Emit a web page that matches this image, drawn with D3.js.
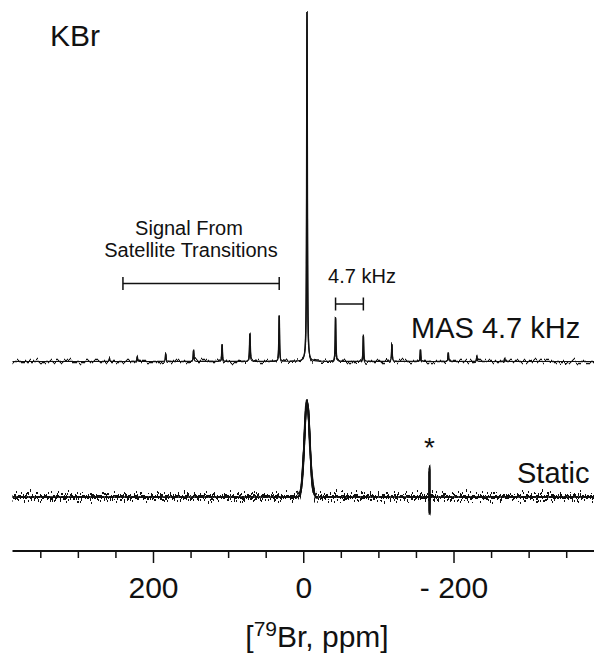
<!DOCTYPE html>
<html>
<head>
<meta charset="utf-8">
<script src="https://cdn.jsdelivr.net/npm/d3@7/dist/d3.min.js"></script>
<style>
  html, body { margin: 0; padding: 0; background: #fff; }
  svg { display: block; font-family: Arial, "Liberation Sans", Helvetica, sans-serif; }
</style>
</head>
<body>
<svg id="chart" width="594" height="656"></svg>
<script>
// ---- Chemical shift axis (ppm, decreasing to the right) ----
const ppmDomain = [387, -387];
const majorTicks = [200, 0, -200];
const minorTicks = [350, 300, 250, 150, 100, 50, -50, -100, -150, -250, -300, -350];

// ---- 79Br MAS spectrum at 4.7 kHz: centreband and spinning sidebands ----
const masPositions   = [258, 221, 183, 146, 108, 71, 32, -5, -43, -80, -118, -156, -193, -231, -268];
const masIntensities = [0.9, 1.4, 2.3, 3.1, 4.9, 8.0, 13.1, 100, 12.6, 7.7, 4.9, 3.4, 2.3, 1.4, 0.9];
const masLineWidth = 1.0;   // Lorentzian FWHM, ppm

// ---- 79Br static spectrum ----
const staticPositions   = [-5];
const staticIntensities = [100];
const staticLineWidth = 8.5;    // Gaussian FWHM, ppm
// spike artefact marked with an asterisk: positive and negative excursion
const artefactPpm = -168;
const artefactUp = 33;
const artefactDown = -21;

// annotation ranges (ppm)
const satelliteRange = [240, 32];
const spinningRange = [-43, -80];

const svg = d3.select("#chart");
const W = 594;

const x = d3.scaleLinear().domain(ppmDomain).range([12.5, 594]);
const yMas = d3.scaleLinear().domain([0, 100]).range([361.5, 12]);
const yStatic = d3.scaleLinear().domain([0, 100]).range([497, 402]);

// noise texture filters (vertical displacement only)
const defs = svg.append("defs");
function noiseFilter(id, freq, scale, seed) {
  const f = defs.append("filter").attr("id", id)
    .attr("filterUnits", "userSpaceOnUse")
    .attr("x", 0).attr("y", 0).attr("width", W).attr("height", 656)
    .attr("color-interpolation-filters", "sRGB");
  f.append("feTurbulence").attr("type", "fractalNoise")
    .attr("baseFrequency", freq).attr("numOctaves", 2).attr("seed", seed).attr("result", "t");
  f.append("feColorMatrix").attr("in", "t").attr("type", "matrix")
    .attr("values", "0 0 0 0 0.5  0 1 0 0 0  0 0 0 0 0  0 0 0 0 1").attr("result", "m");
  f.append("feDisplacementMap").attr("in", "SourceGraphic").attr("in2", "m")
    .attr("scale", scale).attr("xChannelSelector", "R").attr("yChannelSelector", "G");
}
noiseFilter("noiseMas", "0.35 0.01", 9, 4);
noiseFilter("noiseStaticA", "0.5 0.01", 24, 7);
noiseFilter("noiseStaticB", "0.3 0.01", 18, 11);
noiseFilter("noiseStaticC", "0.7 0.01", 20, 19);

// sampling grid in ppm, plus the exact peak centres
function grid(extra) {
  const pts = d3.range(ppmDomain[1], ppmDomain[0] + 0.001, 0.1);
  return pts.concat(extra).sort((a, b) => a - b);
}

const lorentz = (p, c, w) => 1 / (1 + Math.pow(2 * (p - c) / w, 2));
const gauss = (p, c, w) => Math.exp(-4 * Math.LN2 * Math.pow((p - c) / w, 2));

const masTrace = grid(masPositions).map(p => ({
  ppm: p,
  v: d3.sum(masPositions, (c, i) => masIntensities[i] * lorentz(p, c, masLineWidth))
}));

const staticTrace = grid(staticPositions.concat([artefactPpm, artefactPpm - 0.1])).map(p => ({
  ppm: p,
  v: d3.sum(staticPositions, (c, i) => staticIntensities[i] * gauss(p, c, staticLineWidth))
     + artefactUp * lorentz(p, artefactPpm, 0.08)
     + artefactDown * lorentz(p, artefactPpm - 0.1, 0.08)
}));

const masLine = d3.line().x(d => x(d.ppm)).y(d => yMas(d.v));
const staticLine = d3.line().x(d => x(d.ppm)).y(d => yStatic(d.v));

// MAS spectrum
svg.append("path").datum(masTrace).attr("d", masLine)
  .attr("fill", "none").attr("stroke", "#111").attr("stroke-width", 1.2);
svg.append("path").datum(masTrace).attr("d", masLine)
  .attr("fill", "none").attr("stroke", "#111").attr("stroke-width", 1.5)
  .attr("filter", "url(#noiseMas)");

// static spectrum
svg.append("path").datum(staticTrace).attr("d", staticLine)
  .attr("fill", "none").attr("stroke", "#111").attr("stroke-width", 1.6);
["noiseStaticA", "noiseStaticB", "noiseStaticC"].forEach(id => {
  svg.append("path").datum(staticTrace).attr("d", staticLine)
    .attr("fill", "none").attr("stroke", "#111").attr("stroke-width", 1.8)
    .attr("filter", `url(#${id})`);
});

// ---- axis ----
const axisY = 551;
const gMinor = svg.append("g").attr("transform", `translate(0,${axisY})`)
  .call(d3.axisBottom(x).tickValues(minorTicks).tickSize(7).tickFormat(""));
const gMajor = svg.append("g").attr("transform", `translate(0,${axisY})`)
  .call(d3.axisBottom(x).tickValues(majorTicks).tickSize(12)
    .tickFormat(d => d < 0 ? "- " + Math.abs(d) : String(d)));
[gMinor, gMajor].forEach(g => {
  g.select(".domain").remove();
  g.selectAll(".tick line").attr("stroke", "#111").attr("stroke-width", 1.5);
});
gMajor.selectAll(".tick text")
  .attr("y", 47).attr("dy", null)
  .attr("font-size", 30).attr("fill", "#111")
  .style("font-family", "Arial, 'Liberation Sans', sans-serif");
svg.append("line")
  .attr("x1", x(ppmDomain[0])).attr("x2", x(ppmDomain[1]))
  .attr("y1", axisY).attr("y2", axisY)
  .attr("stroke", "#111").attr("stroke-width", 1.8);

// axis title
const title = svg.append("text").attr("x", 317).attr("y", 647)
  .attr("text-anchor", "middle").attr("font-size", 30).attr("fill", "#111");
title.append("tspan").text("[");
title.append("tspan").attr("font-size", 21).attr("dy", -11).text("79");
title.append("tspan").attr("dy", 11).text("Br, ppm]");

// ---- labels ----
const txt = (t, xx, yy, size, anchor) => svg.append("text")
  .attr("x", xx).attr("y", yy).attr("font-size", size)
  .attr("text-anchor", anchor || "start").attr("fill", "#111").text(t);

txt("KBr", 50, 46, 30);
txt("MAS 4.7 kHz", 411, 338, 29);
txt("Static", 517, 483, 29);
txt("Signal From", 189, 235, 20, "middle");
txt("Satellite Transitions", 191, 257, 20, "middle");
txt("4.7 kHz", 362, 283, 20, "middle");
txt("*", x(artefactPpm), 457, 28, "middle");

// range brackets
function bracket(range, yy, cap) {
  const g = svg.append("g").attr("stroke", "#111").attr("stroke-width", 1.5);
  g.append("line").attr("x1", x(range[0])).attr("x2", x(range[1])).attr("y1", yy).attr("y2", yy);
  range.forEach(p => g.append("line").attr("x1", x(p)).attr("x2", x(p))
    .attr("y1", yy - cap).attr("y2", yy + cap));
}
bracket(satelliteRange, 283.5, 6.5);
bracket(spinningRange, 304, 6.5);
</script>
</body>
</html>
